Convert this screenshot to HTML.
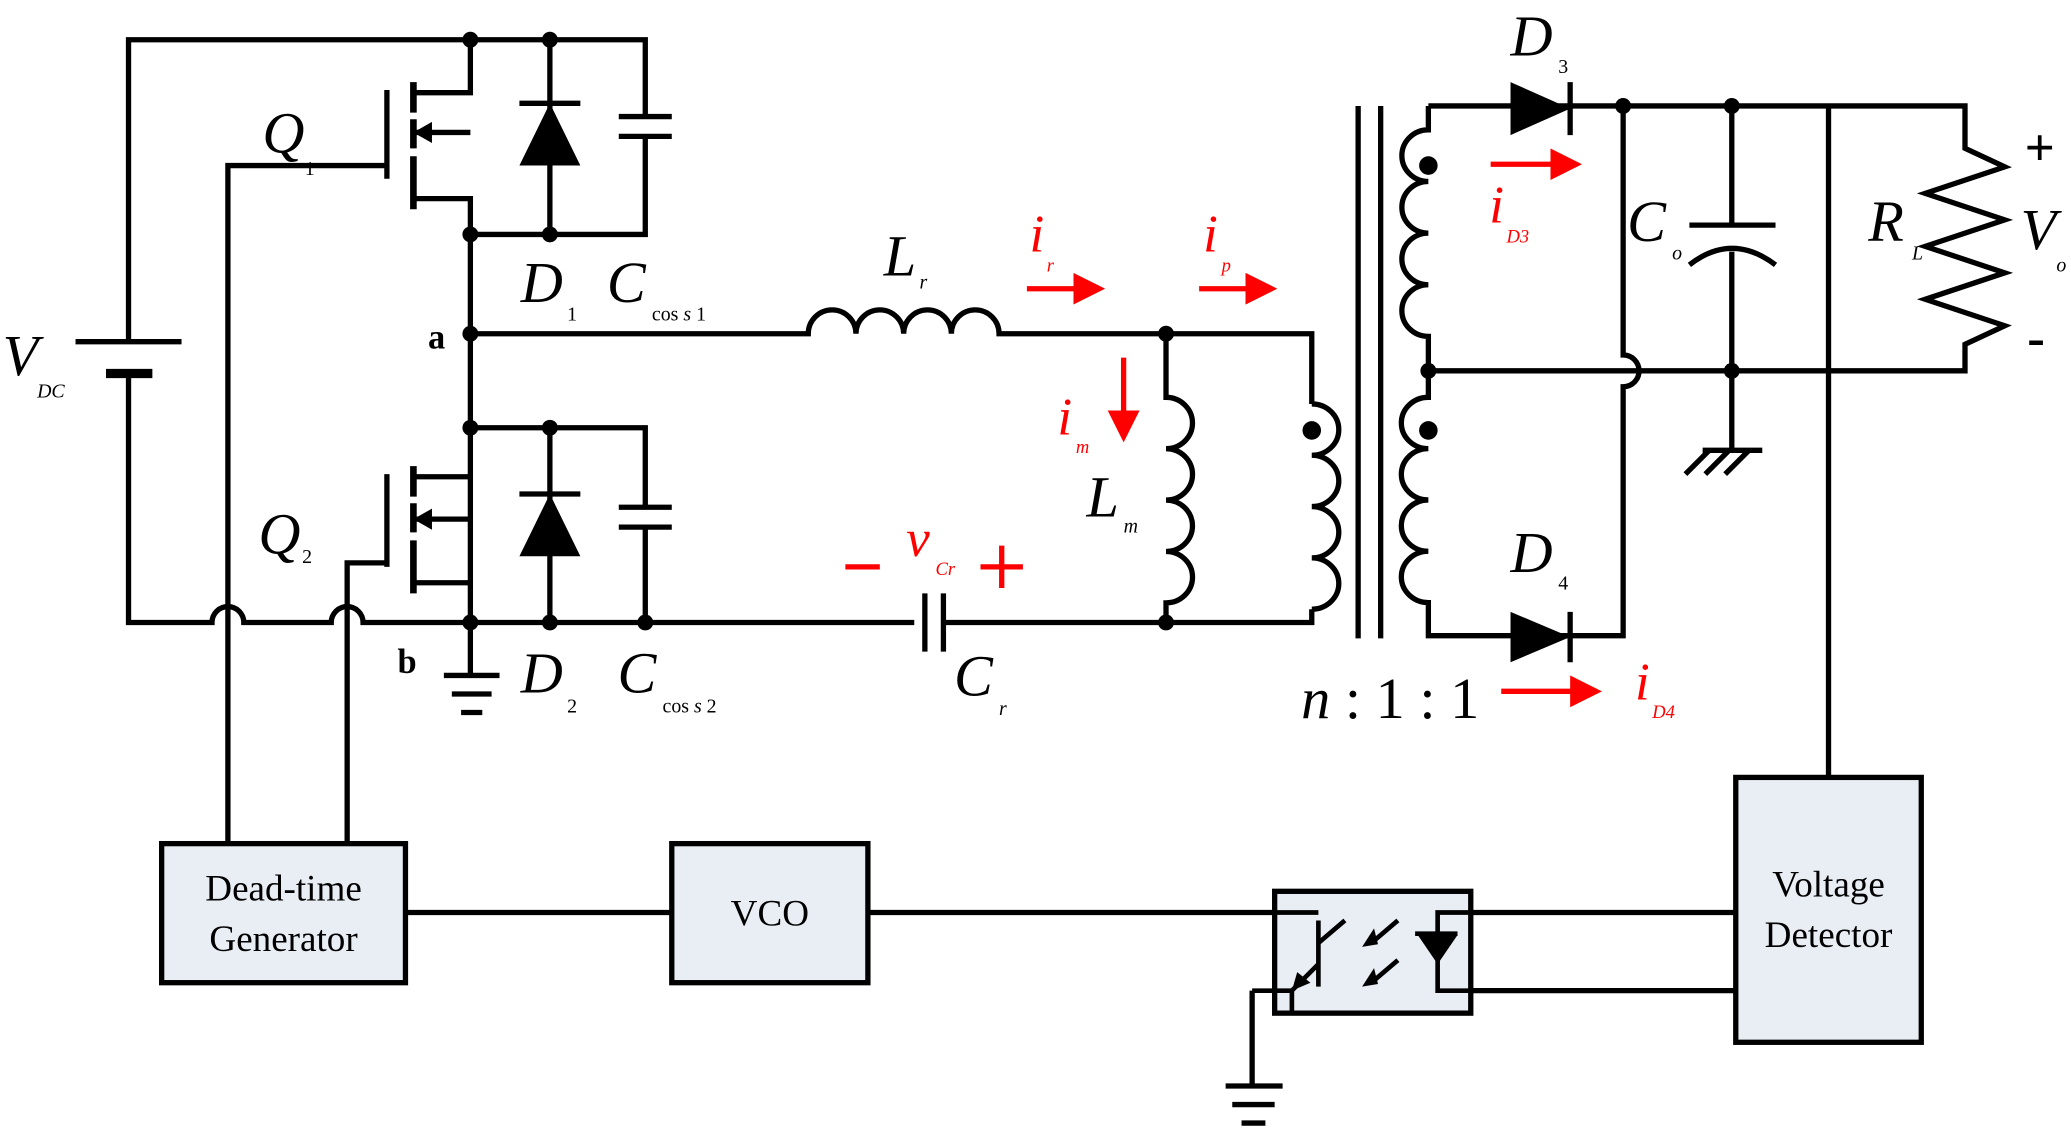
<!DOCTYPE html>
<html><head><meta charset="utf-8"><style>
html,body{margin:0;padding:0;background:#fff;}
svg{display:block}
text{font-family:"Liberation Serif",serif;}
.i{font-style:italic}
</style></head><body>
<svg width="2071" height="1135" viewBox="0 0 1563 857" preserveAspectRatio="none" xmlns="http://www.w3.org/2000/svg">
<defs>
<marker id="ar" markerWidth="6" markerHeight="6" refX="5" refY="3" orient="auto" markerUnits="strokeWidth"><path d="M0,0L6,3L0,6z" fill="red"/></marker>
</defs>
<g fill="none" stroke="#000" stroke-width="4">
<path d="M97,258V30H487V88M487,103V177H355M97,282V470H160a12,12 0 0 1 24,0H250a12,12 0 0 1 24,0H690"/>
<path d="M57,258H137" /><path d="M80,282H115" stroke-width="7"/>
<path d="M355,30V70H312M312,100H355M312,150H355V470"/>
<path d="M312,62V85M312,90V112M312,118V158" stroke-width="5"/>
<path d="M292,68V135M172,635V125H292"/>
<path d="M415,30V177M392,78H438"/>
<path d="M467,88H507M467,103H507"/>
<path d="M355,252H610a18,18 0 0 1 36,0a18,18 0 0 1 36,0a18,18 0 0 1 36,0a18,18 0 0 1 36,0H990V305"/>
<path d="M355,323H487V383M487,398V470M355,360H312M312,392H355M312,440H355"/>
<path d="M312,352V375M312,380V402M312,408V448" stroke-width="5"/>
<path d="M292,358V428M262,635V425H292"/>
<path d="M415,323V470M392,373H438"/>
<path d="M467,383H507M467,398H507"/>
<path d="M355,470V510M335,510H377M341,524H371M348,538H364"/>
<path d="M712,470H990V460M698,448V492M712,448V492"/>
<path d="M880,252V300a20,19.4 0 0 1 0,38.8a20,19.4 0 0 1 0,38.8a20,19.4 0 0 1 0,38.8a20,19.4 0 0 1 0,38.8V470"/>
<path d="M990,305a20,19 0 0 1 0,38.75a20,19 0 0 1 0,38.75a20,19 0 0 1 0,38.75a20,19 0 0 1 0,38.75"/>
<path d="M1025,80V482M1042,80V482"/>
<path d="M1078,80V98a20,19.5 0 0 0 0,39a20,19.5 0 0 0 0,39a20,19.5 0 0 0 0,39a20,19.5 0 0 0 0,39V300a20,19 0 0 0 0,38.75a20,19 0 0 0 0,38.75a20,19 0 0 0 0,38.75a20,19 0 0 0 0,38.75V480H1225V292a12,12 0 0 0 0,-24V80"/>
<path d="M1078,80H1483V112l30,14l-60,20l60,20l-60,20l60,20l-60,20l60,20l-30,14V280H1078"/>
<path d="M1185,62V102M1185,462V500"/>
<path d="M1307,80V170M1275,170H1340M1307,190V340M1275,200Q1307,175 1340,200"/>
<path d="M1285,340H1330M1290,340l-18,18M1305,340l-18,18M1320,340l-18,18"/>
<path d="M1380,80V587"/>
<rect x="122" y="637" width="184" height="105" fill="#e8eef4"/>
<rect x="507" y="637" width="148" height="105" fill="#e8eef4"/>
<rect x="1310" y="587" width="140" height="200" fill="#e8eef4"/>
<rect x="962" y="673" width="148" height="92" fill="#e8eef4"/>
<path d="M306,689H507M655,689H962M1110,689H1310M1110,748H1310"/>
<path d="M962,689H995M995,695V745M995,712L1015,695M995,728L975,748" stroke-width="3.5"/>
<path d="M945,748H975V765" stroke-width="3.5"/>
<path d="M945,748V820M925,820H968M930,834H962M937,848H955"/>
<path d="M1110,689H1085V748H1110M1068,705H1100" stroke-width="3.5"/>
<path d="M1055,695L1035,712M1055,725L1035,742" stroke-width="3.5"/>
</g>
<g fill="#000">
<path d="M392,125L438,125L415,78z"/>
<path d="M392,420L438,420L415,373z"/>
<path d="M1140,62V102L1185,82z"/>
<path d="M1140,462V500L1185,481z"/>
<path d="M1070,706H1100L1085,728z"/>
<path d="M312,100l14,-8v16z"/>
<path d="M312,392l14,-8v16z"/>
<path d="M1028,715l12,-2l-3,-12z"/>
<path d="M1028,745l12,-2l-3,-12z"/>
<path d="M975,748l4,-14l10,8z"/>
<circle cx="355" cy="30" r="6"/><circle cx="415" cy="30" r="6"/>
<circle cx="355" cy="177" r="6"/><circle cx="415" cy="177" r="6"/>
<circle cx="355" cy="252" r="6"/><circle cx="355" cy="323" r="6"/>
<circle cx="415" cy="323" r="6"/><circle cx="355" cy="470" r="6"/>
<circle cx="415" cy="470" r="6"/><circle cx="487" cy="470" r="6"/>
<circle cx="880" cy="252" r="6"/><circle cx="880" cy="470" r="6"/>
<circle cx="1078" cy="280" r="6"/><circle cx="1225" cy="80" r="6"/>
<circle cx="1307" cy="80" r="6"/><circle cx="1307" cy="280" r="6"/>
<circle cx="990" cy="325" r="7"/><circle cx="1078" cy="125" r="7"/><circle cx="1078" cy="325" r="7"/>
</g>
<g stroke="red" stroke-width="4" fill="none">
<path d="M775,218H830" marker-end="url(#ar)"/>
<path d="M905,218H960" marker-end="url(#ar)"/>
<path d="M848,270V330" marker-end="url(#ar)"/>
<path d="M1125,124H1190" marker-end="url(#ar)"/>
<path d="M1133,522H1205" marker-end="url(#ar)"/>
<path d="M638,428H664M740,428H772M756,412V444"/>
</g>
<g fill="#000" font-size="44">
<text x="2" y="283" class="i">V</text><text x="28" y="300" font-size="15" class="i">DC</text>
<text x="198" y="115" class="i">Q</text><text x="230" y="132" font-size="15">1</text>
<text x="195" y="418" class="i">Q</text><text x="228" y="425" font-size="15">2</text>
<text x="393" y="228" class="i">D</text><text x="428" y="242" font-size="15">1</text>
<text x="458" y="228" class="i">C</text><text x="492" y="242" font-size="15">cos <tspan class="i">s</tspan> 1</text>
<text x="393" y="523" class="i">D</text><text x="428" y="538" font-size="15">2</text>
<text x="466" y="523" class="i">C</text><text x="500" y="538" font-size="15">cos <tspan class="i">s</tspan> 2</text>
<text x="323" y="263" font-size="26" font-weight="bold">a</text>
<text x="300" y="508" font-size="26" font-weight="bold">b</text>
<text x="667" y="208" class="i">L</text><text x="694" y="218" font-size="15" class="i">r</text>
<text x="820" y="390" class="i">L</text><text x="848" y="402" font-size="15" class="i">m</text>
<text x="720" y="525" class="i">C</text><text x="754" y="540" font-size="15" class="i">r</text>
<text x="1140" y="42" class="i">D</text><text x="1176" y="55" font-size="15">3</text>
<text x="1140" y="432" class="i">D</text><text x="1176" y="445" font-size="15">4</text>
<text x="1228" y="182" class="i">C</text><text x="1262" y="196" font-size="15" class="i">o</text>
<text x="1410" y="182" class="i">R</text><text x="1443" y="196" font-size="15" class="i">L</text>
<text x="1525" y="188" class="i">V</text><text x="1552" y="205" font-size="15" class="i">o</text>
<text x="1528" y="125" font-size="40" font-weight="bold">+</text>
<text x="1530" y="268" font-size="40" font-weight="bold">-</text>
<text x="982" y="542" font-size="44"><tspan class="i">n</tspan> : 1 : 1</text>
<text x="214" y="680" font-size="28" text-anchor="middle">Dead-time</text>
<text x="214" y="718" font-size="28" text-anchor="middle">Generator</text>
<text x="581" y="699" font-size="28" text-anchor="middle">VCO</text>
<text x="1380" y="677" font-size="28" text-anchor="middle">Voltage</text>
<text x="1380" y="715" font-size="28" text-anchor="middle">Detector</text>
</g>
<g fill="red" font-size="40">
<text x="777" y="190" class="i">i</text><text x="790" y="205" font-size="14" class="i">r</text>
<text x="908" y="190" class="i">i</text><text x="922" y="205" font-size="14" class="i">p</text>
<text x="798" y="328" class="i">i</text><text x="812" y="342" font-size="14" class="i">m</text>
<text x="684" y="420" class="i">v</text><text x="706" y="434" font-size="14" class="i">Cr</text>
<text x="1124" y="168" class="i">i</text><text x="1137" y="183" font-size="14" class="i">D3</text>
<text x="1234" y="528" class="i">i</text><text x="1247" y="542" font-size="14" class="i">D4</text>
</g>
</svg>
</body></html>
